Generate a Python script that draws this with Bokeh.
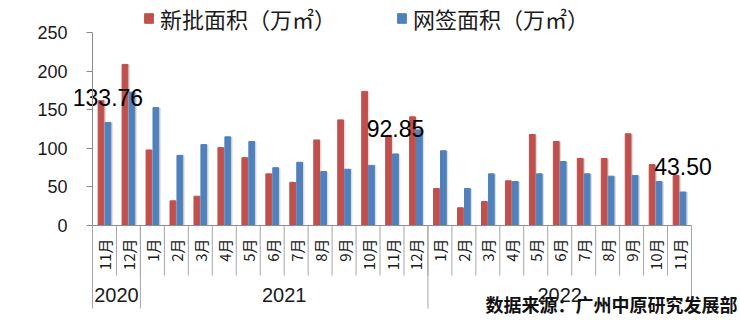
import numpy as np
from bokeh.plotting import figure
from bokeh.models import Range1d, LinearAxis, FixedTicker, Legend, LegendItem, Label
from bokeh.core.properties import value
from bokeh.embed import file_html
from bokeh.resources import INLINE

# ---------------- data ----------------
months = ["11月", "12月",
          "1月", "2月", "3月", "4月", "5月", "6月", "7月", "8月", "9月", "10月", "11月", "12月",
          "1月", "2月", "3月", "4月", "5月", "6月", "7月", "8月", "9月", "10月", "11月"]
years = ["2020", "2021", "2022"]
year_counts = [2, 12, 11]
new_area = [162, 209,
            98, 32, 38, 101, 88, 67, 56, 111, 137, 174, 117, 141,
            48, 23, 31, 58, 118, 109, 87, 87, 119, 79, 65]
signed_area = [133.76, 173,
               153, 91, 105, 115, 109, 75, 82, 70, 73, 78, 92.85, 124,
               97, 48, 67, 57, 67, 83, 67, 64, 65, 57, 43.50]
labeled_idx = [0, 12, 24]
y_ticks = [0, 50, 100, 150, 200, 250]
legend_labels = ["新批面积（万㎡）", "网签面积（万㎡）"]
source_note = "数据来源：广州中原研究发展部"

RED = "#C0504D"
BLUE = "#4F81BD"
AXIS = "#8c8c8c"

# ---------------- geometry ----------------
W, H = 740, 320
LEFT = 92               # pixel column of the value axis
PX_X = 23.96            # px per category
PX_Y = 0.7708           # px per unit value
Y0_PX = 225             # pixel row of value 0
n = len(months)

def vy(px_row):
    return (Y0_PX - px_row) / PX_Y

p = figure(width=W, height=H, output_backend="svg", toolbar_location=None,
           x_range=Range1d(-LEFT / PX_X, (W - LEFT) / PX_X),
           y_range=Range1d(vy(H), vy(0)),
           min_border_left=0, min_border_right=0, min_border_top=0, min_border_bottom=0,
           x_axis_type=None, y_axis_type=None)
p.outline_line_color = None
p.grid.visible = False
p.background_fill_color = "white"
p.border_fill_color = "white"

yaxis = LinearAxis(bounds=(0, 250), ticker=FixedTicker(ticks=y_ticks), fixed_location=0)
yaxis.axis_line_color = AXIS
yaxis.major_tick_line_color = AXIS
yaxis.major_tick_out = 6
yaxis.major_tick_in = 0
yaxis.minor_tick_line_color = None
yaxis.major_label_standoff = 19
yaxis.major_label_text_font = "Liberation Sans"
yaxis.major_label_text_font_size = "18px"
yaxis.major_label_text_color = "#1a1a1a"
p.add_layout(yaxis, "left")

xs = np.arange(n) + 0.5
off = 0.145
bw = 0.24

# shadows
p.vbar(x=xs - off + 0.06, top=np.array(new_area) - 0.6, width=bw, color="#dcdcdc")
p.vbar(x=xs + off + 0.06, top=np.array(signed_area) - 0.6, width=bw, color="#dcdcdc")
r_red = p.vbar(x=xs - off, top=new_area, width=bw, color=RED)
r_blue = p.vbar(x=xs + off, top=signed_area, width=bw, color=BLUE)

# x axis line and separators
p.segment(x0=[0], y0=[0], x1=[n], y1=[0], line_color=AXIS, line_width=1)
sep_x = list(range(0, n + 1))
p.segment(x0=sep_x, y0=[0] * len(sep_x), x1=sep_x, y1=[vy(275)] * len(sep_x),
          line_color="#a6a6a6", line_width=1)
bounds = [0]
for c in year_counts:
    bounds.append(bounds[-1] + c)
p.segment(x0=bounds, y0=[0] * len(bounds), x1=bounds, y1=[vy(308)] * len(bounds),
          line_color="#a6a6a6", line_width=1)

# month labels
p.text(x=xs, y=[vy(238)] * n, text=months, angle=np.pi / 2,
       text_align="right", text_baseline="middle",
       text_font=value("Noto Sans CJK SC"), text_font_size="15px", text_color="#1a1a1a")

# year labels
year_x = [(bounds[i] + bounds[i + 1]) / 2 for i in range(len(years))]
p.text(x=year_x, y=[vy(294)] * len(years), text=years,
       text_align="center", text_baseline="middle",
       text_font=value("Liberation Sans"), text_font_size="20px", text_color="#1a1a1a")

# data labels
p.text(x=[xs[i] + off for i in labeled_idx],
       y=[signed_area[i] + 25 / PX_Y for i in labeled_idx],
       text=["%.2f" % signed_area[i] for i in labeled_idx],
       text_align="center", text_baseline="middle",
       text_font=value("Liberation Sans"), text_font_size="23px", text_color="#000000")

# legend
legend = Legend(items=[LegendItem(label=legend_labels[0], renderers=[r_red]),
                       LegendItem(label=legend_labels[1], renderers=[r_blue])],
                orientation="horizontal", location=(143, H - 34),
                glyph_width=11, glyph_height=12, label_standoff=6, spacing=60,
                padding=0, margin=0, border_line_color=None, background_fill_alpha=0,
                label_text_font="Noto Sans CJK SC", label_text_font_size="22px",
                label_text_color="#1a1a1a")
p.add_layout(legend)

# source note
p.add_layout(Label(x=737, y=H - 303, x_units="screen", y_units="screen", text=source_note,
                   text_align="right", text_baseline="middle",
                   text_font="Noto Sans CJK SC", text_font_size="18px",
                   text_font_style="bold", text_color="#111111"))

open("out.html", "w").write(file_html(p, INLINE))
